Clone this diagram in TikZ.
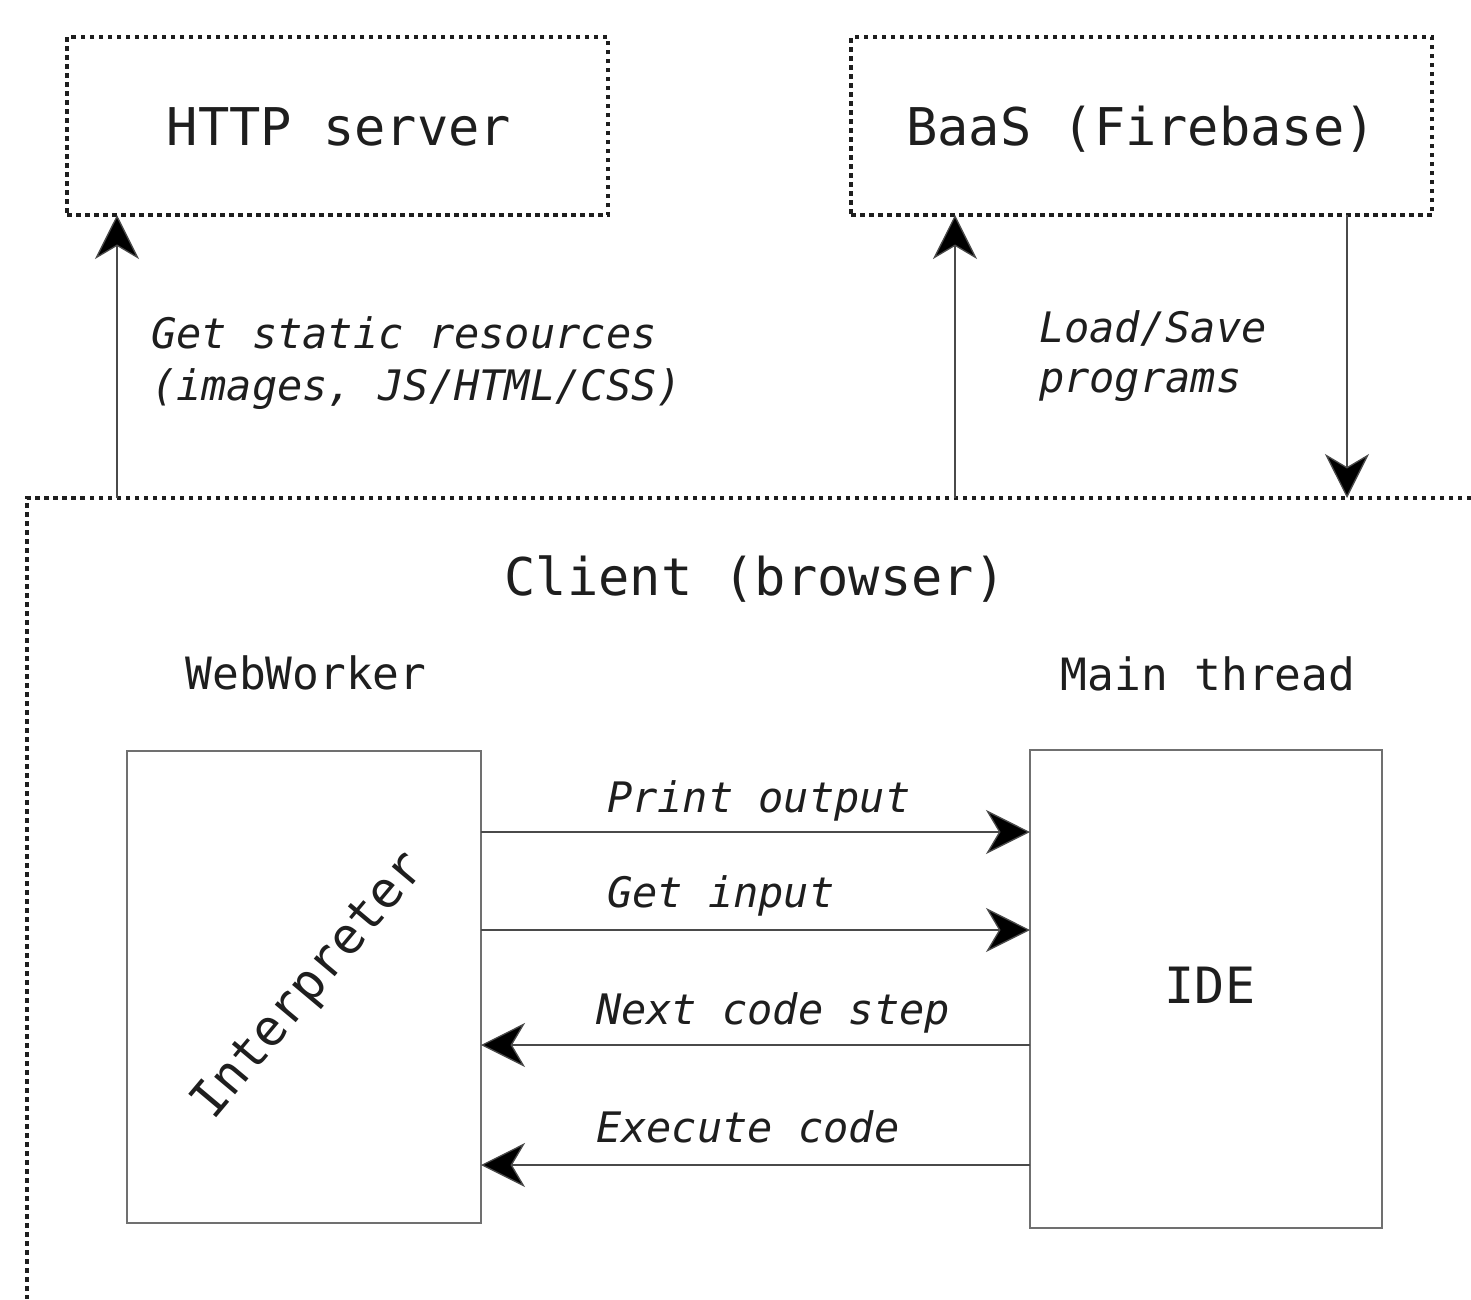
\documentclass[tikz,border=0pt]{standalone}
\usepackage{fontspec}
\setmonofont{DejaVu Sans Mono}
\usetikzlibrary{arrows.meta}
\definecolor{txt}{HTML}{1E1E1E}
\definecolor{boxline}{HTML}{707070}
\definecolor{connline}{HTML}{4A4A4A}
\begin{document}
\begin{tikzpicture}[x=1pt,y=-1pt,
  every node/.style={outer sep=0pt, inner sep=0pt, text=txt},
  dotbox/.style={draw=txt, line width=3.2pt, dash pattern=on 4.5pt off 4.5pt},
  solidbox/.style={draw=boxline, line width=1.8pt},
  conn/.style={draw=connline, line width=1.3pt, -{Stealth[length=44pt, width=44pt, inset=13pt, fill=black]}},
  bigtext/.style={font=\ttfamily\fontsize{52}{60}\selectfont},
  midtext/.style={font=\ttfamily\fontsize{44.5}{52}\selectfont},
  labtext/.style={font=\ttfamily\itshape\fontsize{42}{50}\selectfont},
]
\useasboundingbox (0,0) rectangle (1471,1299);

% servers
\node[dotbox, minimum width=541pt, minimum height=178pt] (http) at (337.5,126) {};
\node[bigtext, anchor=base] (httpt) at (339,145) {HTTP server};
\node[dotbox, minimum width=581pt, minimum height=178pt] (baas) at (1141.5,126) {};
\node[bigtext, anchor=base] (baast) at (1141,145) {BaaS (Firebase)};

% client border
\coordinate (ctl) at (27,498);
\coordinate (ctr) at (1471,498);
\coordinate (cbl) at (27,1299);
\draw[dotbox] (ctr) -- (ctl) -- (cbl);
\node[bigtext, anchor=base] (client) at (755,595) {Client (browser)};
\node[midtext, anchor=base] (ww) at (306,689) {WebWorker};
\node[midtext, anchor=base] (mt) at (1208,690) {Main thread};

% inner boxes
\node[solidbox, minimum width=354pt, minimum height=472pt] (interp) at (304,987) {};
\node[anchor=base, rotate=50, font=\ttfamily\fontsize{50}{58}\selectfont] (interpt) at (320,995) {Interpreter};
\node[solidbox, minimum width=352pt, minimum height=478pt] (ide) at (1206,989) {};
\node[font=\ttfamily\fontsize{50}{58}\selectfont, anchor=base] (idet) at (1210,1003) {IDE};

% client-server connectors
\coordinate (c1) at (117,498);
\coordinate (c2) at (955,498);
\coordinate (c3) at (1347,498);
\draw[conn] (c1) -- (c1 |- http.south);
\draw[conn] (c2) -- (c2 |- baas.south);
\draw[conn] (c3 |- baas.south) -- (c3);
\node[labtext, anchor=base west] (l1a) at (151,348) {Get static resources};
\node[labtext, anchor=base west] (l1b) at (151,400) {(images, JS/HTML/CSS)};
\node[labtext, anchor=base west] (l2a) at (1039,342) {Load/Save};
\node[labtext, anchor=base west] (l2b) at (1039,392) {programs};

% interpreter <-> IDE connectors
\coordinate (y1) at (0,832);
\coordinate (y2) at (0,930);
\coordinate (y3) at (0,1045);
\coordinate (y4) at (0,1165);
\draw[conn] (interp.east |- y1) -- (ide.west |- y1);
\draw[conn] (interp.east |- y2) -- (ide.west |- y2);
\draw[conn] (ide.west |- y3) -- (interp.east |- y3);
\draw[conn] (ide.west |- y4) -- (interp.east |- y4);
\node[labtext, anchor=base west] (p1) at (607,812) {Print output};
\node[labtext, anchor=base west] (p2) at (607,907) {Get input};
\node[labtext, anchor=base west] (p3) at (596,1024) {Next code step};
\node[labtext, anchor=base west] (p4) at (596,1142) {Execute code};
\end{tikzpicture}
\end{document}
